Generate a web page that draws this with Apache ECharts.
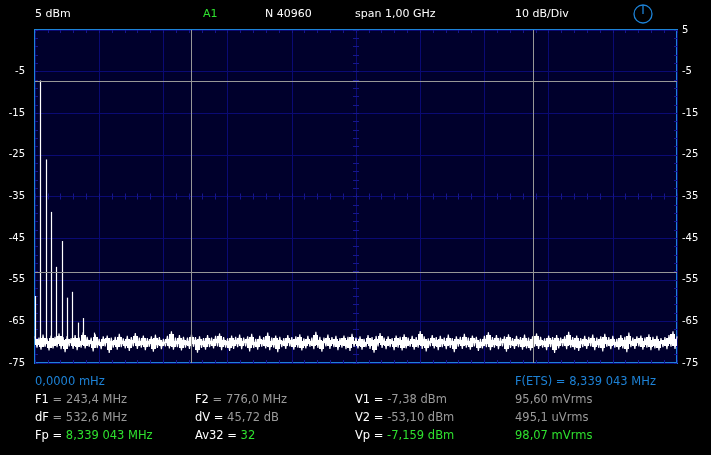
<!DOCTYPE html>
<html><head><meta charset="utf-8">
<script src="https://cdn.jsdelivr.net/npm/echarts@6/dist/echarts.min.js"></script>
<style>html,body{margin:0;padding:0;background:#000;}#c{width:711px;height:455px;}</style>
</head><body><div id="c"></div><script>
// ---- data ----
const freqMin = 0, freqMax = 1000;           // MHz (span 1,00 GHz)
const levelMin = -75, levelMax = 5;          // dBm (10 dB/Div)
// trace samples (noise floor), evenly spaced over the span, dBm
const noise = [
-68.6,-71.3,-68.9,-71.8,-68.2,-71.1,-69.1,-72.0,-68.4,-71.5,-68.7,-71.2,-67.9,-71.7,-68.8,-72.4,-68.5,-71.0,-69.0,-71.6,
-68.3,-71.9,-68.9,-71.3,-67.6,-71.5,-68.7,-71.1,-68.9,-72.2,-68.1,-71.4,-69.2,-71.7,-68.6,-71.0,-68.4,-72.6,-68.9,-71.3,
-68.7,-71.8,-68.0,-71.2,-69.1,-71.5,-68.5,-72.1,-68.8,-71.0,-67.8,-71.6,-68.9,-71.3,-68.4,-71.9,-69.0,-71.1,-68.6,-72.3,
-68.2,-71.4,-68.8,-71.7,-69.2,-71.0,-68.5,-71.5,-67.4,-71.8,-68.9,-71.2,-68.3,-72.0,-68.7,-71.3,-68.9,-71.6,-68.1,-71.1,
-68.8,-72.5,-68.6,-71.4,-69.0,-71.8,-68.3,-71.2,-68.9,-71.5,-68.5,-71.0,-67.9,-71.9,-68.8,-71.3,-69.1,-72.1,-68.4,-71.6,
-68.7,-71.2,-68.2,-71.7,-68.9,-71.0,-68.6,-72.2,-68.0,-71.4,-69.2,-71.8,-68.5,-71.1,-68.8,-71.5,-67.7,-71.9,-68.9,-71.3,
-68.4,-72.4,-68.7,-71.2,-69.0,-71.6,-68.3,-71.0,-68.8,-71.8,-68.6,-71.3,-68.1,-72.0,-69.1,-71.5,-68.5,-71.1,-68.9,-71.7,
-67.5,-71.4,-68.7,-72.3,-68.9,-71.0,-68.2,-71.6,-68.8,-71.2,-68.5,-71.9,-69.0,-71.3,-68.4,-71.7,-68.7,-72.1,-68.0,-71.1,
-68.9,-71.5,-68.6,-71.8,-69.2,-71.2,-68.3,-71.6,-68.8,-72.5,-68.5,-71.0,-67.8,-71.4,-68.9,-71.7,-68.6,-71.2,-69.0,-71.9,
-68.4,-71.3,-68.7,-72.0,-68.1,-71.5,-68.9,-71.1,-68.5,-71.8,-68.8,-71.3,-67.3,-71.6,-68.6,-72.2,-69.1,-71.0,-68.3,-71.5,
-68.8,-71.9,-68.5,-71.2,-68.9,-71.7,-68.2,-71.4,-69.0,-72.4,-68.6,-71.1,-68.7,-71.6,-68.0,-71.3,-68.9,-71.8,-68.4,-71.0,
-68.7,-72.1,-69.2,-71.5,-68.5,-71.2,-67.6,-71.9,-68.8,-71.3,-68.3,-71.7,-68.9,-71.0,-68.6,-72.3,-68.1,-71.4,-69.0,-71.6,
-68.5,-71.2,-68.8,-71.8,-68.2,-71.5,-68.9,-72.0,-68.6,-71.1,-67.9,-71.6,-68.7,-71.3,-69.1,-71.9,-68.4,-71.2,-68.8,-72.6,
-68.3,-71.5,-68.9,-71.0,-68.6,-71.7,-67.5,-71.3,-68.8,-71.8,-68.4,-72.1,-69.0,-71.2,-68.5,-71.6,-68.7,-71.0,-68.2,-71.9,
-68.9,-71.4,-68.6,-72.2,-68.0,-71.1,-68.8,-71.7,-68.5,-71.3,-69.2,-71.8,-68.3,-71.5,-68.7,-72.4,-67.7,-71.2,-68.9,-71.6,
-68.6,-71.0,-68.4,-71.8,-68.9,-71.3,-68.1,-71.9,-68.7,-71.5,-68.5,-72.0,-69.0,-71.2,-68.8,-71.7,-68.3,-71.1,-67.4,-71.6,
-68.6
];
// DC + harmonics of 8,339 MHz: frequency (MHz) and peak level (dBm)
const harmFreq  = [0.6, 8.339, 16.68, 25.02, 33.36, 41.70, 50.03, 58.37, 66.71, 75.05, 91.73];
const harmLevel = [-58.9, -7.16, -26.1, -38.7, -51.9, -45.7, -59.3, -57.9, -65.3, -64.2, -67.7];
const noiseFloor = -70.3;
// cursors
const cursorFreq  = [243.4, 776.0];
const cursorLevel = [-7.38, -53.10];
// header and readout texts
const headerTexts = ['5 dBm', 'A1', 'N 40960', 'span 1,00 GHz', '10 dB/Div'];
const readoutRows = [
  [['0,0000 mHz','blue']],
  [['F1 ','w'],['= 243,4 MHz','g']],
  [['dF ','w'],['= 532,6 MHz','g']],
  [['Fp = ','w'],['8,339 043 MHz','gr']]
];
const readoutCol2 = [
  [['F2 ','w'],['= 776,0 MHz','g']],
  [['dV = ','w'],['45,72 dB','g']],
  [['Av32 = ','w'],['32','gr']]
];
const readoutCol3 = [
  [['V1 = ','w'],['-7,38 dBm','g']],
  [['V2 = ','w'],['-53,10 dBm','g']],
  [['Vp = ','w'],['-7,159 dBm','gr']]
];
const readoutCol4 = [
  [['F(ETS) = 8,339 043 MHz','blue']],
  [['95,60 mVrms','g']],
  [['495,1 uVrms','g']],
  [['98,07 mVrms','gr']]
];

// ---- chart ----
const FONT = 'DejaVu Sans';
const COL = {w:'#ffffff', g:'#9a9a9a', gr:'#2ee02e', blue:'#1d82d6'};
const rich = {};
Object.keys(COL).forEach(k => rich[k] = {fill: COL[k], fontFamily: FONT, fontSize: 11.5});
function richText(parts){ return parts.map(p => '{' + p[1] + '|' + p[0] + '}').join(''); }

const chart = echarts.init(document.getElementById('c'), null, {renderer:'canvas'});
const gridLine = '#0a0a74';
const tickCol = '#16168e';
function minorX(pos, offset){
  return {type:'value', min:freqMin, max:freqMax, interval:20, position:pos, offset:offset||0,
    axisLine:{show:false, onZero:false}, axisLabel:{show:false}, splitLine:{show:false},
    axisTick:{show:true, inside:true, length:3, lineStyle:{color:tickCol}}};
}
function minorY(pos, offset){
  return {type:'value', min:levelMin, max:levelMax, interval:2, position:pos, offset:offset||0,
    axisLine:{show:false, onZero:false}, axisLabel:{show:false}, splitLine:{show:false},
    axisTick:{show:true, inside:true, length:3, lineStyle:{color:tickCol}}};
}

// trace points and filled core between consecutive samples
const step = (freqMax - freqMin) / (noise.length - 1);
const tracePts = noise.map((v,i)=>[freqMin + i*step, v]);
const traceSegs = [];
for (let i = 0; i < noise.length - 1; i++) {
  traceSegs.push([freqMin + i*step, freqMin + (i+1)*step, noise[i], noise[i+1]]);
}
const coreInset = 0.7; // dB, core fill is inset from the sample extremes

const graphics = [];
const headerX = [35, 203, 265, 355, 515];
headerTexts.forEach((t,i)=>{
  graphics.push({type:'text', left:headerX[i], top:9, style:{text:t, fill: i===1?COL.gr:'#fff', font:'11px "'+FONT+'"'}});
});
graphics.push({type:'circle', shape:{cx:643, cy:14, r:9}, style:{fill:null, stroke:COL.blue, lineWidth:1.3}});
graphics.push({type:'line', shape:{x1:643, y1:5, x2:643, y2:14}, style:{stroke:COL.blue, lineWidth:1.3}});
const rowY = [376.5, 394.5, 412.5, 430.5];
readoutRows.forEach((r,i)=>graphics.push({type:'text', left:35, top:rowY[i], style:{text:richText(r), rich}}));
readoutCol2.forEach((r,i)=>graphics.push({type:'text', left:195, top:rowY[i+1], style:{text:richText(r), rich}}));
readoutCol3.forEach((r,i)=>graphics.push({type:'text', left:355, top:rowY[i+1], style:{text:richText(r), rich}}));
readoutCol4.forEach((r,i)=>graphics.push({type:'text', left:515, top:rowY[i], style:{text:richText(r), rich}}));

const option = {
  backgroundColor:'#000',
  animation:false,
  grid:{left:35, right:34, top:30, bottom:92, show:true, backgroundColor:'#00002c', borderColor:'#1d82d6', borderWidth:2},
  xAxis:[
    {type:'value', min:freqMin, max:freqMax, interval:100, position:'bottom',
     axisLine:{show:false, onZero:false}, axisTick:{show:false}, axisLabel:{show:false},
     splitLine:{show:true, lineStyle:{color:gridLine, width:1}}},
    minorX('top'), minorX('bottom'), minorX('bottom', -166.5), minorX('top', -166.5)
  ],
  yAxis:[
    {type:'value', min:levelMin, max:levelMax, interval:10, position:'left',
     axisLine:{show:false, onZero:false}, axisTick:{show:false},
     axisLabel:{color:'#fff', fontFamily:FONT, fontSize:10, margin:10, formatter:v => v===levelMax ? '' : String(v)},
     splitLine:{show:true, lineStyle:{color:gridLine, width:1}}},
    {type:'value', min:levelMin, max:levelMax, interval:10, position:'right',
     axisLine:{show:false, onZero:false}, axisTick:{show:false},
     axisLabel:{color:'#fff', fontFamily:FONT, fontSize:10, margin:5, formatter:v => String(v)},
     splitLine:{show:false}},
    minorY('left'), minorY('right'), minorY('left', -321), minorY('right', -321)
  ],
  series:[
    {type:'line', name:'cursors', data:[], z:2, symbol:'none',
     markLine:{silent:true, symbol:'none', label:{show:false}, animation:false,
       lineStyle:{color:'#979797', width:1, type:'solid'},
       data:[...cursorFreq.map(f=>({xAxis:f})), ...cursorLevel.map(v=>({yAxis:v}))]}},
    {type:'custom', name:'trace core', z:3, silent:true, clip:true,
     data: traceSegs,
     encode:{x:[0,1], y:[2,3]},
     renderItem:(params, api)=>{
       const a = api.value(2), b = api.value(3);
       const p0 = api.coord([api.value(0), Math.max(a,b) - coreInset]);
       const p1 = api.coord([api.value(1), Math.min(a,b) + coreInset]);
       const x0 = Math.floor(p0[0]), x1 = Math.ceil(p1[0]);
       const y0 = Math.round(p0[1]), y1 = Math.round(p1[1]);
       return {type:'rect', shape:{x:x0, y:y0, width:Math.max(1,x1-x0), height:Math.max(1,y1-y0)},
               style:{fill:'#ffffff'}};
     }},
    {type:'line', name:'trace', z:3, symbol:'none', silent:true,
     data: tracePts, lineStyle:{color:'#ffffff', width:1.1}},
    {type:'custom', name:'harmonics', z:4, silent:true,
     data: harmFreq.map((f,i)=>[f, harmLevel[i]]),
     renderItem:(params, api)=>{
       const p0 = api.coord([api.value(0), noiseFloor]);
       const p1 = api.coord([api.value(0), api.value(1)]);
       const x = Math.round(p0[0]) + 0.5;
       return {type:'line', shape:{x1:x, y1:p0[1], x2:x, y2:p1[1]}, style:{stroke:'#fff', lineWidth:1.2}};
     }}
  ],
  graphic: graphics
};
chart.setOption(option);
</script></body></html>
